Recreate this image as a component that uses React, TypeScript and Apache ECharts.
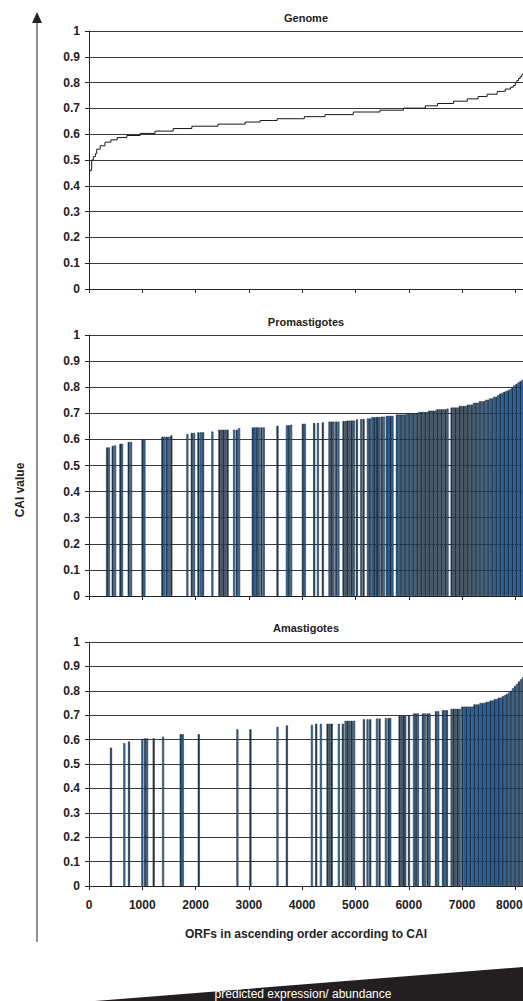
import React, { useEffect, useRef } from "react";
import * as echarts from "echarts";

const panelTitles = ["Genome", "Promastigotes", "Amastigotes"];
const xAxisTitle = "ORFs in ascending order according to CAI";
const yAxisTitle = "CAI value";
const bottomCaption = "predicted expression/ abundance";

// Genome: sorted CAI step curve [ORF rank, CAI]
const genomeCurve: [number, number][] = [
  [0, 0.455], [20, 0.46], [50, 0.5], [80, 0.513], [120, 0.525], [145, 0.542],
  [210, 0.555], [300, 0.569], [410, 0.578], [530, 0.587], [710, 0.595],
  [960, 0.603], [1240, 0.612], [1580, 0.622], [1930, 0.631], [2420, 0.639],
  [2930, 0.647], [3210, 0.653], [3530, 0.66], [4040, 0.668], [4430, 0.676],
  [4960, 0.686], [5460, 0.693], [5900, 0.701], [6310, 0.71], [6540, 0.719],
  [6840, 0.728], [7100, 0.737], [7300, 0.746], [7470, 0.755], [7660, 0.766],
  [7810, 0.775], [7910, 0.782], [7960, 0.789], [8000, 0.8], [8030, 0.808],
  [8060, 0.816], [8090, 0.823], [8120, 0.831], [8150, 0.838], [8200, 0.845],
];

// Promastigotes: detected ORFs [rank, CAI]
const promastigoteBars: [number, number][] = [
  [340, 0.569], [375, 0.569], [445, 0.575], [490, 0.577], [590, 0.583], [620, 0.583],
  [745, 0.59], [790, 0.59], [1005, 0.6], [1040, 0.6], [1377, 0.61], [1415, 0.61],
  [1459, 0.61], [1502, 0.61], [1545, 0.615], [1846, 0.62], [1929, 0.625], [1972, 0.625],
  [2053, 0.627], [2098, 0.627], [2140, 0.627], [2315, 0.63], [2447, 0.637], [2485, 0.637],
  [2523, 0.637], [2560, 0.637], [2600, 0.637], [2723, 0.637], [2773, 0.637], [2817, 0.643],
  [3074, 0.646], [3110, 0.646], [3150, 0.646], [3187, 0.646], [3236, 0.646], [3280, 0.646],
  [3537, 0.652], [3713, 0.654], [3750, 0.654], [3793, 0.656], [4013, 0.66], [4050, 0.66],
  [4225, 0.663], [4295, 0.663], [4388, 0.665], [4512, 0.668], [4550, 0.668], [4588, 0.668],
  [4638, 0.668], [4680, 0.668], [4776, 0.67], [4814, 0.67], [4851, 0.672], [4890, 0.672],
  [4930, 0.672], [4970, 0.672], [5027, 0.676], [5108, 0.678], [5152, 0.678], [5233, 0.68],
  [5270, 0.68], [5315, 0.685], [5352, 0.685], [5390, 0.685], [5415, 0.686], [5452, 0.686],
  [5496, 0.687], [5535, 0.687], [5590, 0.69], [5625, 0.69], [5660, 0.69], [5696, 0.69],
  [5778, 0.695], [5816, 0.695], [5854, 0.695], [5892, 0.695], [5930, 0.695],
  [5968, 0.7], [6006, 0.7], [6044, 0.7], [6082, 0.7], [6120, 0.7], [6158, 0.7],
  [6196, 0.705], [6234, 0.705], [6272, 0.705], [6310, 0.705], [6348, 0.705],
  [6386, 0.71], [6424, 0.71], [6462, 0.71], [6500, 0.71],
  [6538, 0.715], [6576, 0.715], [6614, 0.715], [6652, 0.715], [6690, 0.715],
  [6728, 0.718],
  [6804, 0.722], [6842, 0.722], [6880, 0.722], [6918, 0.722],
  [6956, 0.728], [6994, 0.728], [7032, 0.728], [7070, 0.728],
  [7108, 0.733], [7146, 0.733], [7184, 0.733],
  [7222, 0.74], [7260, 0.74], [7298, 0.74],
  [7336, 0.746], [7374, 0.746], [7412, 0.746],
  [7450, 0.752], [7488, 0.752], [7526, 0.757], [7564, 0.757],
  [7602, 0.763], [7640, 0.763], [7678, 0.77], [7716, 0.775], [7754, 0.778], [7792, 0.782],
  [7830, 0.785], [7868, 0.788], [7906, 0.792], [7944, 0.8], [7982, 0.807], [8020, 0.812],
  [8058, 0.818], [8096, 0.823], [8134, 0.828], [8172, 0.832],
];

// Amastigotes: detected ORFs [rank, CAI]
const amastigoteBars: [number, number][] = [
  [413, 0.567], [663, 0.585], [751, 0.592], [1001, 0.603], [1052, 0.605], [1090, 0.605],
  [1214, 0.605], [1390, 0.612], [1721, 0.622], [1760, 0.622], [2060, 0.622], [2785, 0.642],
  [3029, 0.642], [3537, 0.652], [3713, 0.658], [4182, 0.66], [4263, 0.665], [4351, 0.665],
  [4476, 0.665], [4515, 0.665], [4555, 0.665], [4689, 0.665], [4764, 0.665],
  [4814, 0.677], [4852, 0.677], [4890, 0.677], [4930, 0.677], [4975, 0.677],
  [5159, 0.683], [5227, 0.683], [5277, 0.683], [5403, 0.686], [5452, 0.686],
  [5571, 0.688], [5621, 0.688], [5653, 0.688],
  [5828, 0.697], [5866, 0.697], [5904, 0.697], [5934, 0.697], [6004, 0.7],
  [6098, 0.707], [6136, 0.707], [6174, 0.707], [6266, 0.707], [6304, 0.707],
  [6353, 0.707], [6391, 0.707], [6511, 0.716], [6554, 0.716],
  [6642, 0.72], [6680, 0.72], [6717, 0.72],
  [6804, 0.726], [6842, 0.726], [6880, 0.726], [6918, 0.726], [6956, 0.726],
  [7005, 0.735], [7043, 0.735], [7081, 0.735], [7119, 0.735], [7157, 0.735], [7195, 0.735],
  [7233, 0.744], [7271, 0.744], [7309, 0.744], [7347, 0.75], [7385, 0.75], [7423, 0.75],
  [7461, 0.755], [7499, 0.755], [7537, 0.76], [7575, 0.76], [7613, 0.766], [7651, 0.766],
  [7689, 0.772], [7727, 0.772], [7765, 0.778], [7803, 0.782], [7841, 0.787], [7879, 0.793],
  [7917, 0.8], [7955, 0.81], [7993, 0.82], [8031, 0.828], [8069, 0.838], [8107, 0.847],
  [8145, 0.856], [8183, 0.86],
];

const FONT = "'Liberation Sans', Arial, sans-serif";
const INK = "#222";

const grids = [
  { left: 89, top: 31, right: -3, height: 258 },
  { left: 89, top: 335, right: -3, height: 261 },
  { left: 89, top: 642, right: -3, height: 244 },
];
const titleY = [18, 322, 628];

function mkX(i: number, labels: boolean) {
  return {
    type: "value",
    gridIndex: i,
    min: 0,
    max: 8200,
    interval: 1000,
    axisLine: { show: true, onZero: false, lineStyle: { color: INK, width: 1 } },
    axisTick: { show: true, length: 4, lineStyle: { color: INK } },
    axisLabel: {
      show: labels,
      showMaxLabel: false,
      formatter: (v: number) => (v >= 8000 ? "{edge|" + v + "}" : String(v)),
      rich: {
        edge: {
          fontFamily: FONT,
          fontWeight: "bold",
          fontSize: 12,
          color: INK,
          padding: [0, 12, 0, 0],
        },
      },
      fontFamily: FONT,
      fontWeight: "bold",
      fontSize: 12,
      color: INK,
      margin: 13,
    },
    splitLine: { show: false },
  };
}

function mkY(i: number) {
  return {
    type: "value",
    gridIndex: i,
    min: 0,
    max: 1,
    interval: 0.1,
    axisLine: { show: true, lineStyle: { color: INK, width: 1 } },
    axisTick: { show: true, length: 4, lineStyle: { color: INK } },
    axisLabel: {
      fontFamily: FONT,
      fontWeight: "bold",
      fontSize: 12,
      color: INK,
      margin: 9,
    },
    splitLine: { show: true, lineStyle: { color: "#3a3a3a", width: 1 } },
  };
}

const BAR_COLORS = ["#1f3b5a", "#2f6fae"];

function barSeries(idx: number, pts: [number, number][]) {
  return {
    type: "bar",
    xAxisIndex: idx,
    yAxisIndex: idx,
    barWidth: 2,
    data: pts.map((p, k) => ({
      value: p,
      itemStyle: { color: BAR_COLORS[k % 2] },
    })),
    itemStyle: { borderColor: "#17222e", borderWidth: 0.5 },
    z: 3,
  };
}

export default function App() {
  const ref = useRef<HTMLDivElement>(null);
  useEffect(() => {
    if (!ref.current) return;
    const chart = echarts.init(ref.current, null, { renderer: "svg" });
    const option: any = {
      animation: false,
      backgroundColor: "#fff",
      grid: grids.map((g) => ({ ...g, containLabel: false, outerBoundsMode: "none" })),
      xAxis: [mkX(0, false), mkX(1, false), mkX(2, true)],
      yAxis: [mkY(0), mkY(1), mkY(2)],
      series: [
        {
          type: "line",
          xAxisIndex: 0,
          yAxisIndex: 0,
          step: "end",
          showSymbol: false,
          data: genomeCurve,
          lineStyle: { color: "#1a1a1a", width: 1 },
          z: 3,
        },
        barSeries(1, promastigoteBars),
        barSeries(2, amastigoteBars),
      ],
      graphic: [
        ...panelTitles.map((t, i) => ({
          type: "text",
          x: 306,
          y: titleY[i],
          style: {
            text: t,
            fontFamily: FONT,
            fontWeight: "bold",
            fontSize: 11,
            fill: INK,
            align: "center",
            verticalAlign: "middle",
          },
        })),
        {
          type: "text",
          x: 306,
          y: 934,
          style: {
            text: xAxisTitle,
            fontFamily: FONT,
            fontWeight: "bold",
            fontSize: 12,
            fill: INK,
            align: "center",
            verticalAlign: "middle",
          },
        },
        {
          type: "text",
          x: 20,
          y: 490,
          rotation: Math.PI / 2,
          style: {
            text: yAxisTitle,
            fontFamily: FONT,
            fontWeight: "bold",
            fontSize: 12,
            fill: INK,
            align: "center",
            verticalAlign: "middle",
          },
        },
        {
          type: "line",
          shape: { x1: 37, y1: 20, x2: 37, y2: 942 },
          style: { stroke: INK, lineWidth: 1 },
        },
        {
          type: "polygon",
          shape: { points: [[37, 12], [32, 23], [42, 23]] },
          style: { fill: INK },
        },
        {
          type: "polygon",
          shape: { points: [[95, 1001], [523, 967], [523, 1001]] },
          style: { fill: "#231f20" },
        },
        {
          type: "text",
          x: 303,
          y: 994,
          style: {
            text: bottomCaption,
            fontFamily: FONT,
            fontSize: 12,
            fill: "#fff",
            align: "center",
            verticalAlign: "middle",
          },
        },
      ],
    };
    chart.setOption(option);
    return () => chart.dispose();
  }, []);
  return (
    <div
      ref={ref}
      style={{ position: "absolute", left: 0, top: 0, width: 523, height: 1001 }}
    />
  );
}
